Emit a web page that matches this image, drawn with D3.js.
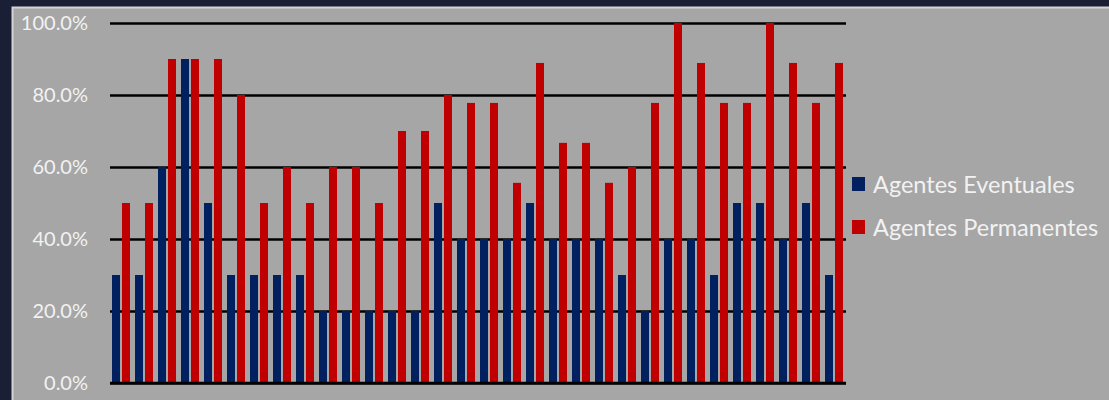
<!DOCTYPE html>
<html lang="es">
<head>
    <meta charset="UTF-8">
    <title>Agentes Eventuales / Permanentes | D3</title>
    <style>
        html, body { margin: 0; padding: 0; background: #1b1f36; }
        #container { width: 1109px; height: 400px; }
        text { font-family: Lato, "Open Sans", sans-serif; fill: #f2f2f2; }
    </style>
</head>
<body>
    <div id="container"></div>

    <script type="text/javascript" src="https://d3js.org/d3.v7.min.js"></script>
    <script type="text/javascript">
        // 32 groups, no category labels shown on the chart
        var categories = d3.range(1, 33).map(String);

        var seriesNames = ["Agentes Eventuales", "Agentes Permanentes"];
        var seriesColors = ["#002060", "#c00000"];

        var eventuales = [0.3, 0.3, 0.6, 0.9, 0.5, 0.3, 0.3, 0.3, 0.3, 0.2, 0.2, 0.2, 0.2, 0.2, 0.5, 0.4,
                          0.4, 0.4, 0.5, 0.4, 0.4, 0.4, 0.3, 0.2, 0.4, 0.4, 0.3, 0.5, 0.5, 0.4, 0.5, 0.3];
        var permanentes = [0.5, 0.5, 0.9, 0.9, 0.9, 0.8, 0.5, 0.6, 0.5, 0.6, 0.6, 0.5, 0.7, 0.7, 0.8, 0.778,
                           0.778, 0.556, 0.889, 0.667, 0.667, 0.556, 0.6, 0.778, 1.0, 0.889, 0.778, 0.778, 1.0, 0.889, 0.778, 0.889];

        var yTicks = [0, 0.2, 0.4, 0.6, 0.8, 1.0];

        var width = 1109, height = 400;
        var plot = { left: 110, right: 846, top: 23, bottom: 383 };

        var svg = d3.select("#container")
            .append("svg")
            .attr("width", width)
            .attr("height", height);

        // gray panel with a light edge
        svg.append("rect")
            .attr("x", 12.5).attr("y", 7.5)
            .attr("width", width).attr("height", height)
            .attr("fill", "#a6a6a6")
            .attr("stroke", "#d4d4d4")
            .attr("stroke-width", 2);

        var x0 = d3.scaleBand()
            .domain(categories)
            .range([plot.left, plot.right]);

        var x1 = d3.scaleBand()
            .domain(seriesNames)
            .range([2, 20])
            .paddingInner(0.2);

        var y = d3.scaleLinear()
            .domain([0, 1])
            .range([plot.bottom, plot.top]);

        // gridlines behind bars
        var yAxis = d3.axisLeft(y)
            .tickValues(yTicks)
            .tickSize(-(plot.right - plot.left))
            .tickPadding(22)
            .tickFormat(d3.format(".1%"));

        var gAxis = svg.append("g")
            .attr("transform", "translate(" + plot.left + ",0)")
            .call(yAxis);
        gAxis.select(".domain").remove();
        gAxis.selectAll(".tick line")
            .attr("stroke", "#000")
            .attr("stroke-width", 2.5);
        gAxis.selectAll(".tick text")
            .attr("font-size", 20)
            .attr("fill", "#f2f2f2")
            .style("font-family", "Lato, 'Open Sans', sans-serif");

        var rows = categories.map(function(c, i) {
            return { cat: c, values: [eventuales[i], permanentes[i]] };
        });

        var groups = svg.append("g")
            .selectAll("g")
            .data(rows)
            .enter()
                .append("g")
                .attr("transform", function(d) { return "translate(" + x0(d.cat) + ",0)"; });

        groups.selectAll("rect")
            .data(function(d) {
                return d.values.map(function(v, j) { return { name: seriesNames[j], value: v, color: seriesColors[j] }; });
            })
            .enter()
                .append("rect")
                .attr("x", function(d) { return x1(d.name); })
                .attr("width", x1.bandwidth())
                .attr("y", function(d) { return y(d.value); })
                .attr("height", function(d) { return y(0) - y(d.value); })
                .attr("fill", function(d) { return d.color; });

        // redraw the zero line on top
        svg.append("line")
            .attr("x1", plot.left).attr("x2", plot.right)
            .attr("y1", y(0)).attr("y2", y(0))
            .attr("stroke", "#000")
            .attr("stroke-width", 2.5);

        // legend
        var legend = svg.append("g")
            .selectAll("g")
            .data(seriesNames)
            .enter()
                .append("g")
                .attr("transform", function(d, i) { return "translate(852," + (177 + i * 43) + ")"; });

        legend.append("rect")
            .attr("width", 13)
            .attr("height", 14)
            .attr("fill", function(d, i) { return seriesColors[i]; });

        legend.append("text")
            .attr("x", 21)
            .attr("y", 16)
            .attr("font-size", 23.5)
            .text(function(d) { return d; });
    </script>
</body>
</html>
